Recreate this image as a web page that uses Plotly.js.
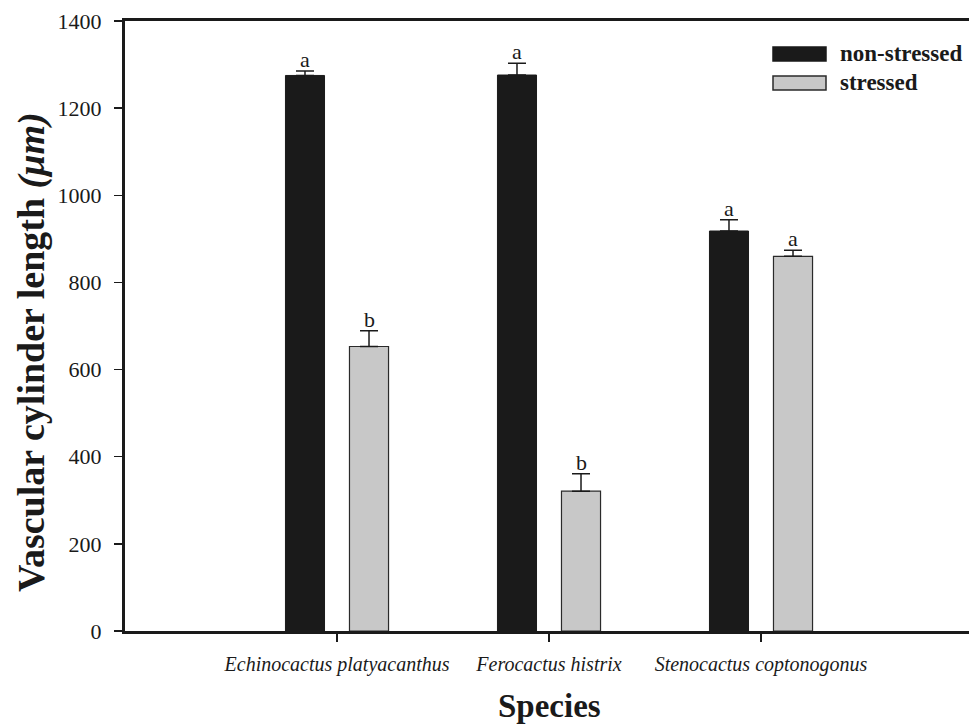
<!DOCTYPE html>
<html>
<head>
<meta charset="utf-8">
<script src="https://cdn.plot.ly/plotly-3.0.1.min.js"></script>
<style>
  html, body { margin: 0; padding: 0; overflow: hidden; background: #fff; }
  #chart { width: 1000px; height: 726px; }
</style>
</head>
<body>
<div id="chart"></div>
<script>
// Vascular cylinder length by species and water treatment
var species = ['Echinocactus platyacanthus', 'Ferocactus histrix', 'Stenocactus coptonogonus'];
var nonStressed = [1275, 1276, 918];
var nonStressedErr = [10, 27, 26];
var stressed = [653, 321, 860];
var stressedErr = [36, 40, 14];
var nonStressedLetters = ['a', 'a', 'a'];
var stressedLetters = ['b', 'b', 'a'];
var yTicks = [0, 200, 400, 600, 800, 1000, 1200, 1400];

var FONT = 'Liberation Serif, Times New Roman, serif';
var INK = '#1a1a1a';

// plot-area geometry (pixels) used to place the free-floating labels
var W = 1000, H = 726;
var M = { l: 125, r: 27, t: 21, b: 95 };
var PW = W - M.l - M.r, PH = H - M.t - M.b;
function px(x) { return (x - M.l) / PW; }
function py(y) { return (H - M.b - y) / PH; }

function zeros(a) { return a.map(function () { return 0; }); }

var traces = [
  {
    type: 'bar', name: 'non-stressed', x: species, y: nonStressed,
    marker: { color: INK, line: { color: INK, width: 1 } },
    error_y: { type: 'data', symmetric: false, array: nonStressedErr, arrayminus: zeros(nonStressedErr),
               color: INK, thickness: 1.5, width: 9 },
    showlegend: false, hoverinfo: 'x+y'
  },
  {
    type: 'bar', name: 'stressed', x: species, y: stressed,
    marker: { color: '#c8c8c8', line: { color: '#2a2a2a', width: 1.2 } },
    error_y: { type: 'data', symmetric: false, array: stressedErr, arrayminus: zeros(stressedErr),
               color: INK, thickness: 1.5, width: 9 },
    showlegend: false, hoverinfo: 'x+y'
  }
];

var annotations = [];
// significance letters above each error cap
species.forEach(function (s, i) {
  annotations.push({ x: s, y: nonStressed[i] + nonStressedErr[i], xref: 'x', yref: 'y',
    text: nonStressedLetters[i], showarrow: false, xshift: -32, yshift: -3, yanchor: 'bottom',
    font: { family: FONT, size: 22, color: INK } });
  annotations.push({ x: s, y: stressed[i] + stressedErr[i], xref: 'x', yref: 'y',
    text: stressedLetters[i], showarrow: false, xshift: 32, yshift: -3, yanchor: 'bottom',
    font: { family: FONT, size: 22, color: INK } });
});

// axis titles
annotations.push({ x: px(31), y: py(352), xref: 'paper', yref: 'paper', textangle: -90,
  text: '<b>Vascular cylinder length <i>(μm)</i></b>', showarrow: false,
  xanchor: 'center', yanchor: 'middle', font: { family: FONT, size: 38, color: INK } });
annotations.push({ x: 0.5, y: py(706), xref: 'paper', yref: 'paper',
  text: '<b>Species</b>', showarrow: false, xanchor: 'center', yanchor: 'middle',
  font: { family: FONT, size: 33, color: INK } });

// legend entries
var legendItems = [
  { label: 'non-stressed', fill: INK, line: INK, yc: 54 },
  { label: 'stressed', fill: '#c8c8c8', line: '#2a2a2a', yc: 83 }
];
var shapes = [];
legendItems.forEach(function (it) {
  shapes.push({ type: 'rect', xref: 'paper', yref: 'paper',
    x0: px(773), x1: px(826), y0: py(it.yc - 7), y1: py(it.yc + 7),
    fillcolor: it.fill, line: { color: it.line, width: 1.5 } });
  annotations.push({ x: px(838), y: py(it.yc), xref: 'paper', yref: 'paper',
    text: '<b>' + it.label + '</b>', showarrow: false, xanchor: 'left', yanchor: 'middle',
    font: { family: FONT, size: 23, color: INK } });
});

var layout = {
  width: W, height: H,
  margin: M,
  paper_bgcolor: '#fff', plot_bgcolor: '#fff',
  barmode: 'group', bargap: 0.396, bargroupgap: 0.39,
  xaxis: {
    type: 'category', range: [-1, 3],
    showline: true, linecolor: INK, linewidth: 3, mirror: true,
    ticks: 'outside', ticklen: 8, tickwidth: 1.5, tickcolor: INK,
    showgrid: false, zeroline: false,
    tickfont: { family: FONT, size: 20, color: INK, style: 'italic' },
    ticklabelstandoff: 5
  },
  yaxis: {
    range: [0, 1400], tickvals: yTicks, ticktext: yTicks.map(String),
    showline: true, linecolor: INK, linewidth: 3,
    ticks: 'outside', ticklen: 8, tickwidth: 1.5, tickcolor: INK,
    showgrid: false, zeroline: false,
    tickfont: { family: FONT, size: 22, color: INK },
    ticklabelstandoff: 8
  },
  annotations: annotations,
  shapes: shapes,
  showlegend: false
};

Plotly.newPlot('chart', traces, layout, { displayModeBar: false, staticPlot: true });
</script>
</body>
</html>
